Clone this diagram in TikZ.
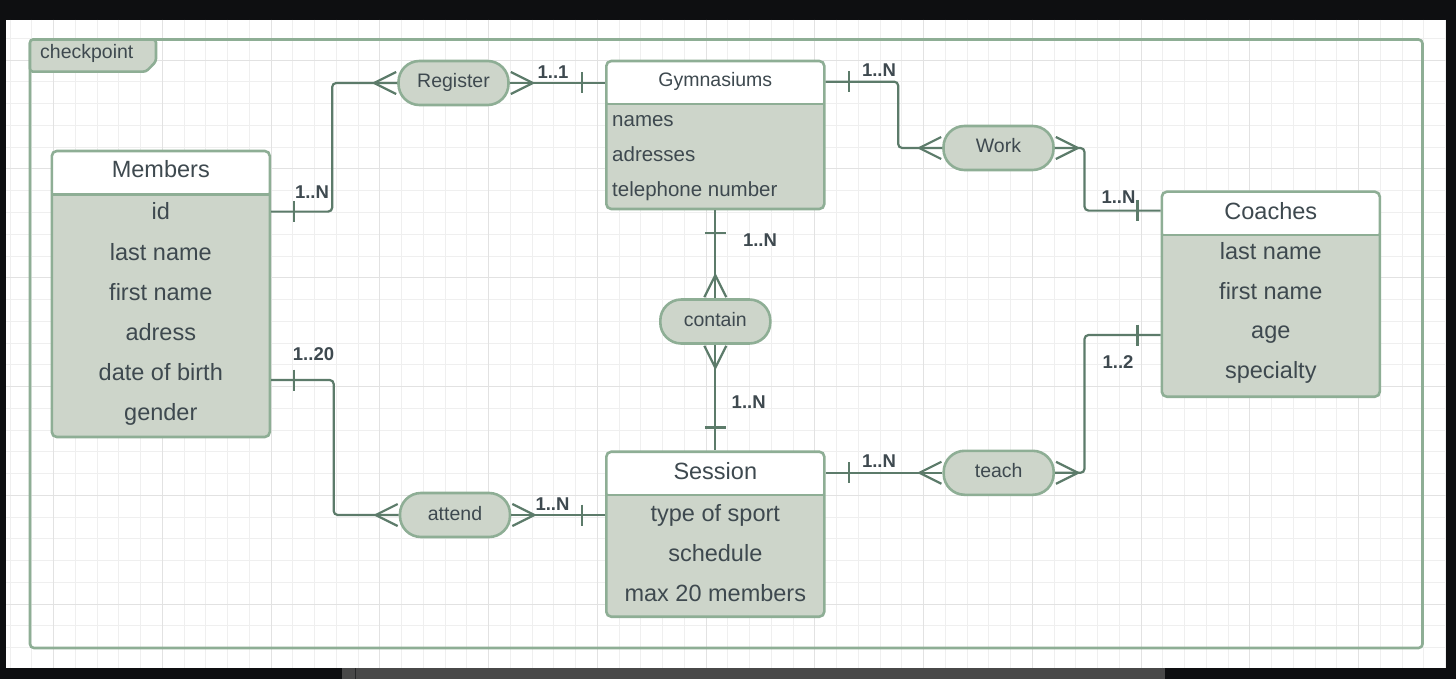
\documentclass[tikz,border=0pt]{standalone}
\usepackage{fontspec}
\setmainfont{Liberation Sans}
\usetikzlibrary{calc}
\definecolor{canvasbg}{HTML}{0E0F11}
\definecolor{panelgray}{HTML}{484848}
\definecolor{gridminor}{HTML}{EFEFEF}
\definecolor{gridmajor}{HTML}{E2E2E2}
\definecolor{edge}{HTML}{8EAE95}
\definecolor{sage}{HTML}{CDD5CA}
\definecolor{linkc}{HTML}{5C7B6A}
\definecolor{ink}{HTML}{3E494F}
\tikzset{
    link/.style={draw=linkc, line width=2.2pt, rounded corners=4pt},
    ent/.style={draw=edge, fill=sage, line width=2.6pt, rounded corners=5pt, minimum width=218pt, inner sep=0pt,
        path picture={\fill[white] (path picture bounding box.north west) rectangle ([yshift=-#1]path picture bounding box.north east);
            \draw[edge, line width=2.6pt] ([yshift=-#1]path picture bounding box.north west) -- ([yshift=-#1]path picture bounding box.north east);}},
    rel/.style={draw=edge, fill=sage, line width=2.6pt, rounded corners=21pt, minimum width=110pt, minimum height=44pt,
        inner sep=0pt, text=ink, font=\fontsize{19.5}{23}\selectfont, text height=14pt, text depth=4pt},
    enttitle/.style={anchor=base, inner sep=0pt, text=ink, font=\fontsize{23.5}{28}\selectfont},
    gymtitle/.style={anchor=base, inner sep=0pt, text=ink, font=\fontsize{19.5}{23}\selectfont},
    gymrow/.style={anchor=base west, inner sep=0pt, text=ink, font=\fontsize{20.5}{24}\selectfont},
    card/.style={anchor=base, inner sep=0pt, text=ink, font=\bfseries\fontsize{18.5}{22}\selectfont},
    crowl/.pic={\draw[link, sharp corners] (-1,-11) -- (-23,0) -- (-1,11);},
    crowr/.pic={\draw[link, sharp corners] (1,-11) -- (23,0) -- (1,11);},
    crowu/.pic={\draw[link, sharp corners] (-11,-1) -- (0,-23) -- (11,-1);},
    crowd/.pic={\draw[link, sharp corners] (-11,1) -- (0,23) -- (11,1);},
    vbar/.pic={\draw[link] (0,-10.5) -- (0,10.5);},
    hbar/.pic={\draw[link] (-10.5,0) -- (10.5,0);}
}
\begin{document}
\begin{tikzpicture}[x=1pt,y=-1pt]
    \useasboundingbox (0,0) rectangle (1456,679);
    \fill[canvasbg] (0,0) rectangle (1456,679);
    \fill[white] (6,20) rectangle (1446,668);
    \fill[panelgray] (342,668) rectangle (1165,679);
    \draw[canvasbg!60!panelgray, line width=1pt] (355,668) -- (355,679);
    \begin{scope}
    \clip (6,20) rectangle (1446,668);
    \foreach \k in {-2,...,64}
        \draw[gridminor, line width=1pt] (53.5+21.75*\k,20) -- (53.5+21.75*\k,668);
    \foreach \k in {-3,...,27}
        \draw[gridminor, line width=1pt] (6,604-21.75*\k) -- (1446,604-21.75*\k);
    \foreach \k in {0,...,12}
        \draw[gridmajor, line width=1pt] (53.5+108.75*\k,20) -- (53.5+108.75*\k,668);
    \foreach \k in {0,...,5}
        \draw[gridmajor, line width=1pt] (6,604-108.75*\k) -- (1446,604-108.75*\k);
    \end{scope}
    \draw[edge, line width=2.6pt, rounded corners=4pt] (30,39.5) rectangle (1422.5,648);
    \draw[edge, fill=sage, line width=2.6pt, rounded corners=3pt] (30,39.5) -- (156,39.5) -- (156,61.5) -- (146,71.7) -- (30,71.7) -- cycle;
    \node[gymtitle, anchor=base west] (tabt) at (40,58.3) {checkpoint};

    \node[ent=43.5pt, minimum height=286pt] (mem) at (160.8,294) {};
    \node[enttitle] (memt) at (160.8,178) {Members};
    \foreach \a [count=\i] in {id,last name,first name,adress,date of birth,gender}
        \node[enttitle] (mem\i) at (160.8,180+40*\i) {\a};

    \node[ent=43pt, minimum height=148pt] (gym) at (715.3,135) {};
    \node[gymtitle] (gymt) at (715.3,86.7) {Gymnasiums};
    \foreach \a [count=\i] in {names,adresses,telephone number}
        \node[gymrow] (gym\i) at (612,91+35.2*\i) {\a};

    \node[ent=43.3pt, minimum height=205pt] (coa) at (1270.8,294.2) {};
    \node[enttitle] (coat) at (1270.8,219) {Coaches};
    \foreach \a [count=\i] in {last name,first name,age,specialty}
        \node[enttitle] (coa\i) at (1270.8,219.5+39.8*\i) {\a};

    \node[ent=43.3pt, minimum height=165pt] (ses) at (715.3,534.2) {};
    \node[enttitle] (sest) at (715.3,479) {Session};
    \foreach \a [count=\i] in {type of sport,schedule,max 20 members}
        \node[enttitle] (ses\i) at (715.3,481+40*\i) {\a};

    \node[rel] (reg) at (453.5,83) {Register};
    \node[rel] (wrk) at (998.5,148) {Work};
    \node[rel] (con) at (715.3,321.5) {contain};
    \node[rel] (att) at (455,515) {attend};
    \node[rel] (tea) at (998.7,472.8) {teach};

    \draw[link] (mem.east |- mem1) -| ($(reg.west)+(-65,0)$) -- (reg.west);
    \draw[link] (reg.east) -- (gym.west |- reg);
    \draw[link] (gym.east |- gymt) -| ($(wrk.west)+(-44,0)$) -- (wrk.west);
    \draw[link] (wrk.east) -| ($(coa.west |- coat)+(-76,0)$) -- (coa.west |- coat);
    \draw[link] (gym.south) -- (con.north);
    \draw[link] (con.south) -- (ses.north);
    \draw[link] (mem.east |- mem5.base) -| ($(att.west)+(-65,0)$) -- (att.west);
    \draw[link] (att.east) -- (ses.west |- att);
    \draw[link] (ses.east |- tea) -- (tea.west);
    \draw[link] (tea.east) -| ($(coa.west |- coa3)+(-76,0)$) -- (coa.west |- coa3);

    \foreach \r in {reg,wrk,att,tea}{
        \pic at (\r.west) {crowl};
        \pic at (\r.east) {crowr};}
    \pic at (con.north) {crowu};
    \pic at (con.south) {crowd};

    \pic at ($(mem.east |- mem1)+(23,0)$) {vbar};
    \pic at ($(mem.east |- mem5.base)+(23,0)$) {vbar};
    \pic at ($(gym.west |- reg)+(-23,0)$) {vbar};
    \pic at ($(gym.east |- gymt)+(23,0)$) {vbar};
    \pic at ($(coa.west |- coat)+(-23,0)$) {vbar};
    \pic at ($(coa.west |- coa3)+(-23,0)$) {vbar};
    \pic at ($(ses.west |- att)+(-23,0)$) {vbar};
    \pic at ($(ses.east |- tea)+(23,0)$) {vbar};
    \pic at ($(gym.south)+(0,23)$) {hbar};
    \pic at ($(ses.north)+(0,-23)$) {hbar};

    \node[card] (cmemreg) at (312,199) {1..N};
    \node[card] (creggym) at (553,78.3) {1..1};
    \node[card] (cgymwrk) at (879,77) {1..N};
    \node[card] (cwrkcoa) at (1118.5,203.3) {1..N};
    \node[card] (cgymcon) at (760,247) {1..N};
    \node[card] (cconses) at (748.7,408) {1..N};
    \node[card] (cmematt) at (313.5,360) {1..20};
    \node[card] (cattses) at (552.5,510) {1..N};
    \node[card] (csestea) at (879,467.7) {1..N};
    \node[card] (cteacoa) at (1118,368) {1..2};
\end{tikzpicture}
\end{document}
